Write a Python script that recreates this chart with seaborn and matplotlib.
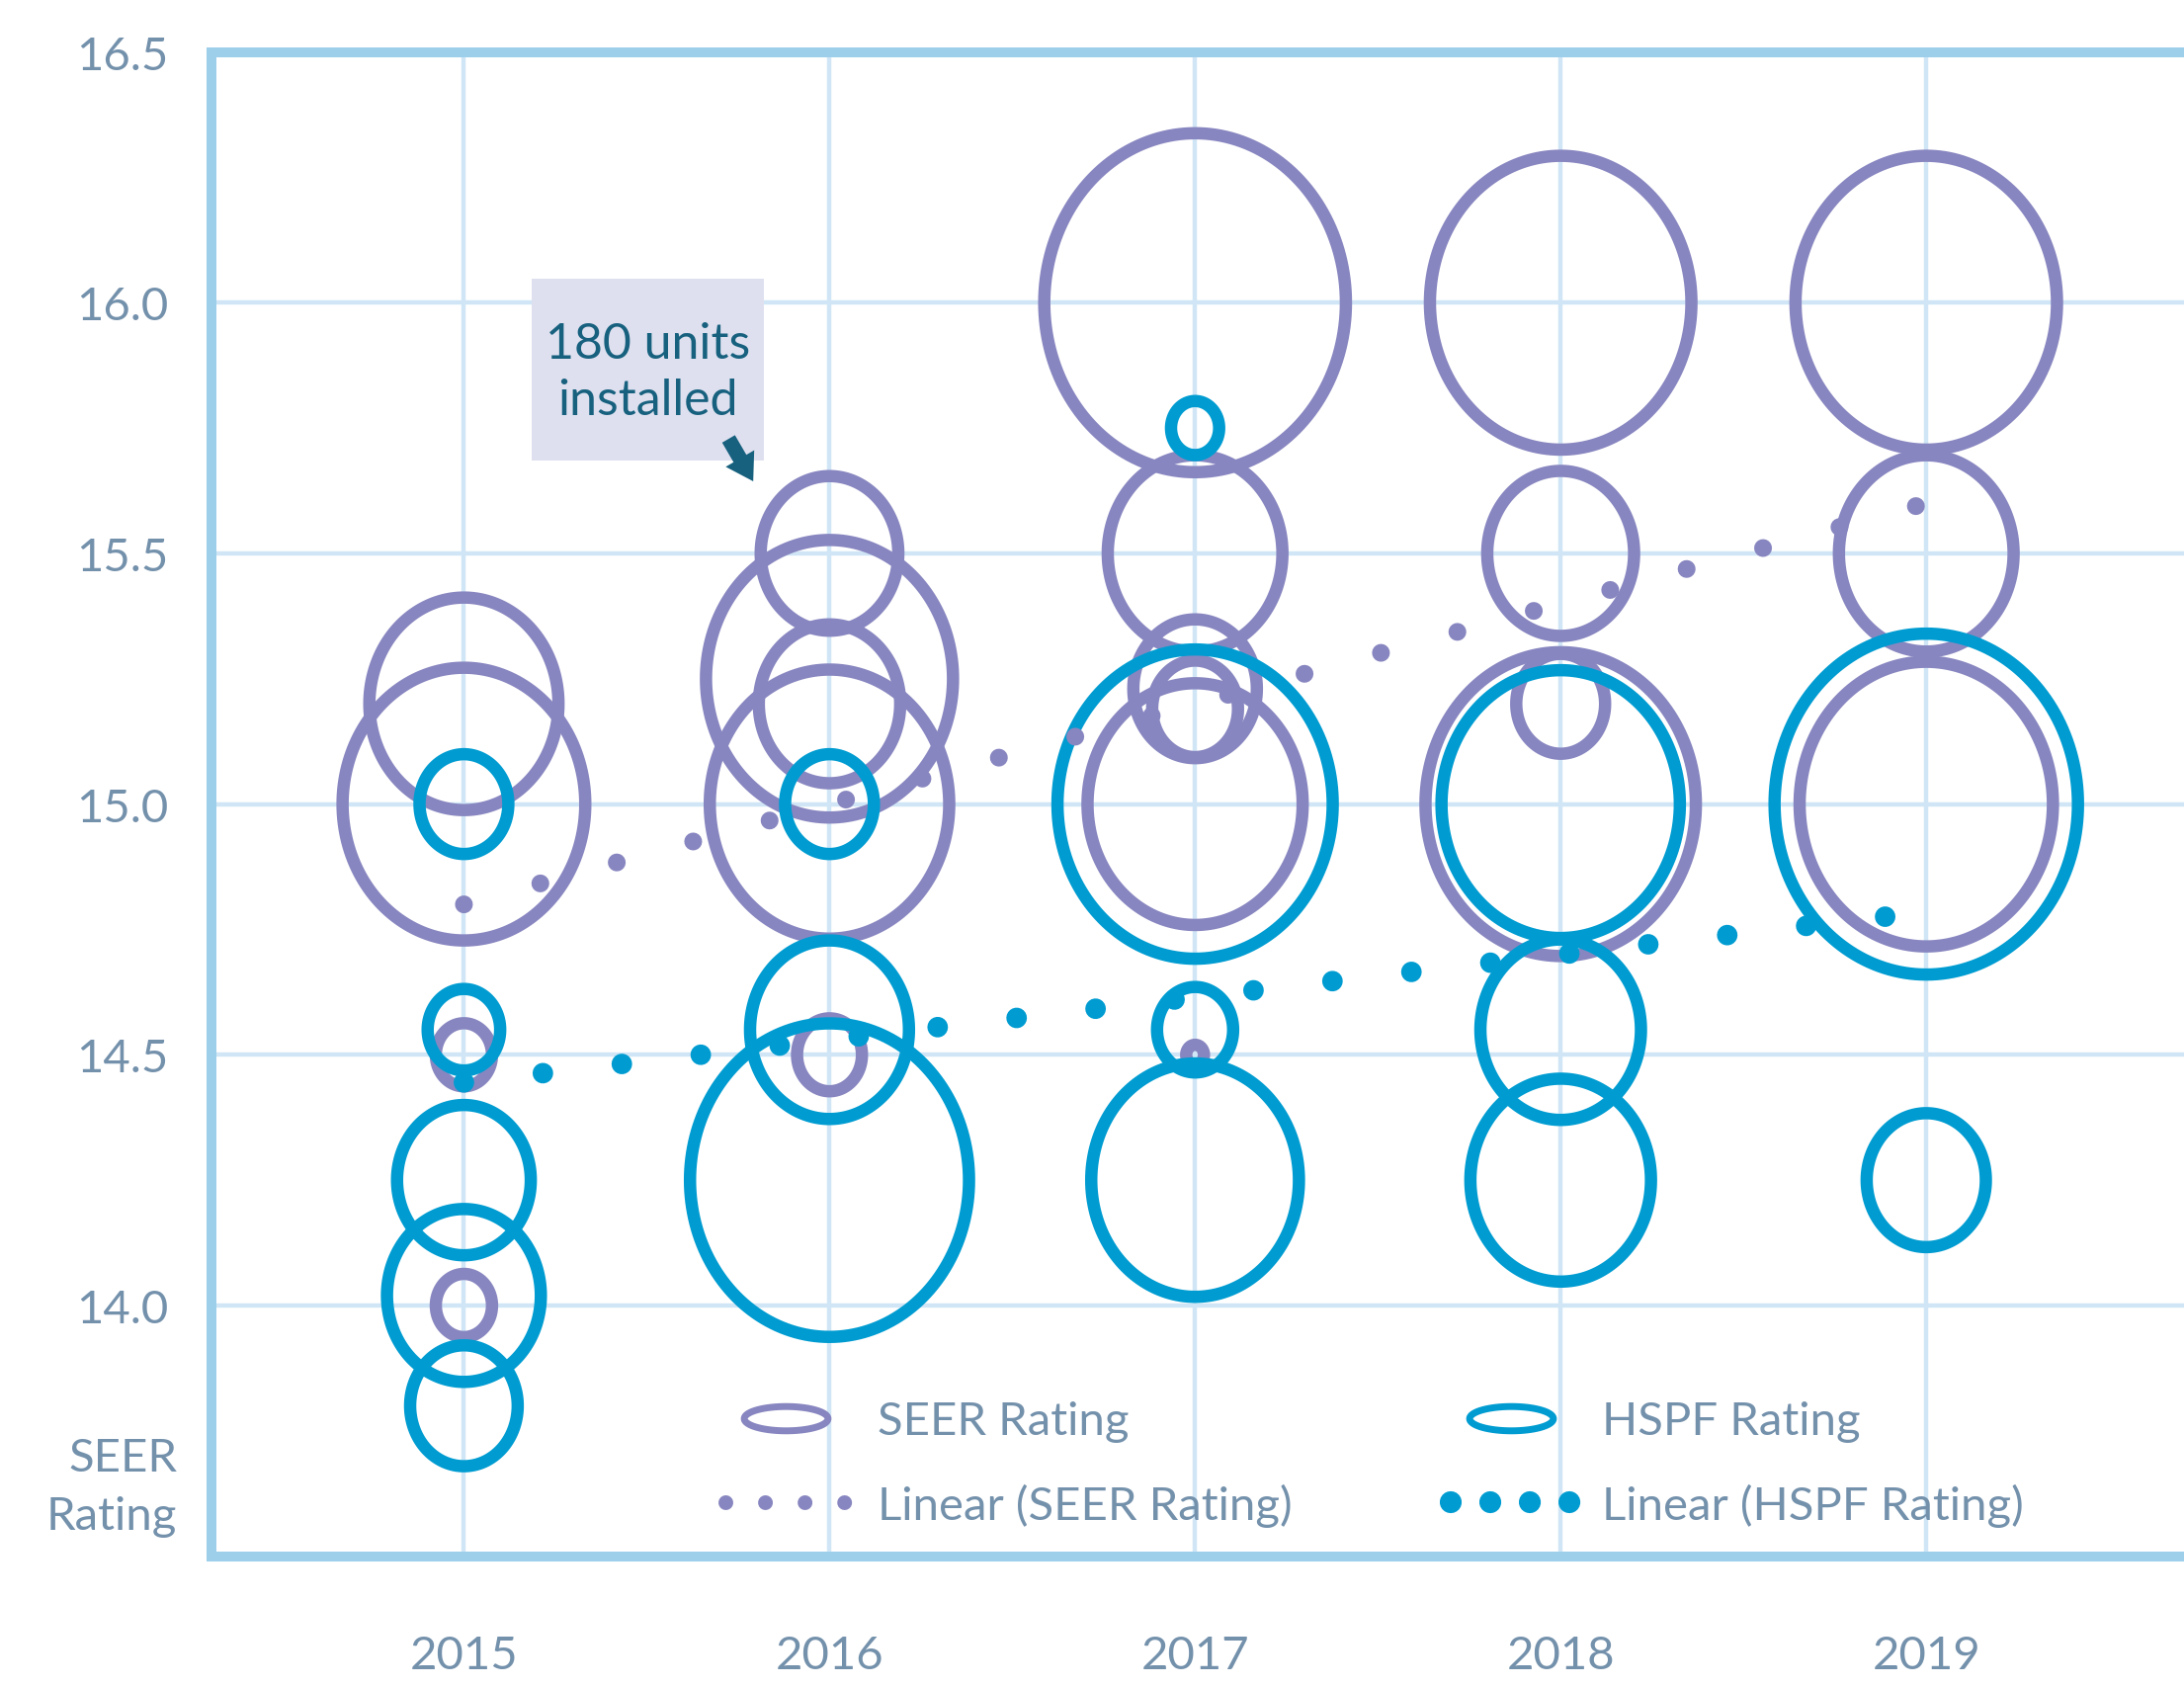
import numpy as np
import pandas as pd
import matplotlib
matplotlib.use("Agg")
import matplotlib.pyplot as plt
import seaborn as sns
from matplotlib.path import Path
from matplotlib.lines import Line2D

# ---------------- data ----------------
years = [2015, 2016, 2017, 2018, 2019]
year_labels = ["2015", "2016", "2017", "2018", "2019"]
y_ticks = [14.0, 14.5, 15.0, 15.5, 16.0, 16.5]

seer_year = [2015, 2015, 2015, 2015,
             2016, 2016, 2016, 2016, 2016,
             2017, 2017, 2017, 2017, 2017, 2017,
             2018, 2018, 2018, 2018,
             2019, 2019, 2019]
seer_rating = [15.2, 15.0, 14.5, 14.0,
               15.5, 15.25, 15.2, 15.0, 14.5,
               16.0, 15.5, 15.23, 15.19, 15.0, 14.5,
               16.0, 15.5, 15.2, 15.0,
               16.0, 15.5, 15.0]
seer_units = [340, 560, 30, 30,
              180, 580, 190, 545, 40,
              865, 290, 145, 70, 440, 3,
              650, 205, 75, 695,
              650, 290, 610]

hspf_year = [2015, 2015, 2015, 2015, 2015,
             2016, 2016, 2016,
             2017, 2017, 2017, 2017,
             2018, 2018, 2018,
             2019, 2019]
hspf_rating = [15.0, 14.55, 14.25, 14.02, 13.8,
               15.0, 14.55, 14.25,
               15.75, 15.0, 14.55, 14.25,
               15.0, 14.55, 14.25,
               15.0, 14.25]
hspf_units = [75, 50, 170, 225, 110,
              75, 240, 740,
              22, 720, 55, 410,
              540, 245, 310,
              875, 135]

seer_trend = [14.80, 15.00, 15.20, 15.40, 15.60]
hspf_trend = [14.445, 14.53, 14.615, 14.70, 14.785]

seer_df = pd.DataFrame({"year": seer_year, "rating": seer_rating, "units": seer_units})
hspf_df = pd.DataFrame({"year": hspf_year, "rating": hspf_rating, "units": hspf_units})

# ---------------- style ----------------
PURPLE = "#8886C0"
BLUE = "#009CD1"
TXT = "#7491AC"
SPINE = "#9DCFEB"
GRID = "#D0E6F6"
NOTE = "#17617F"
FS = 34

sns.set_style("white")
plt.rcParams["font.family"] = ["Lato", "DejaVu Sans"]

fig = plt.figure(figsize=(22.1, 17.08), dpi=100)
ax = fig.add_axes([0.0970, 0.0775, 0.9030, 0.8911])

t = np.linspace(0, 2 * np.pi, 181)
bubble = Path(np.column_stack([0.89 * np.cos(t), np.sin(t)]), closed=True)
flat = Path(np.column_stack([np.cos(t), 0.29 * np.sin(t)]), closed=True)

K = 70.5  # points^2 per unit installed


def bubbles(df, color):
    n0 = len(ax.collections)
    sns.scatterplot(data=df, x="year", y="rating", size="units",
                    sizes=(0, K * 1000), size_norm=(0, 1000),
                    marker=bubble, color=color, legend=False, ax=ax)
    coll = ax.collections[n0]
    coll.set_facecolor("none")
    coll.set_edgecolor(color)
    coll.set_linewidth(9)


bubbles(seer_df, PURPLE)
bubbles(hspf_df, BLUE)

sns.lineplot(x=years, y=seer_trend, ax=ax, color=PURPLE, lw=13,
             linestyle=(0, (0.001, 4.44)), dash_capstyle="round",
             errorbar=None, legend=False)
sns.lineplot(x=years, y=hspf_trend, ax=ax, color=BLUE, lw=15,
             linestyle=(0, (0.001, 3.86)), dash_capstyle="round",
             errorbar=None, legend=False)

# ---------------- axes ----------------
ax.set_xlim(2014.3105, 2019.705)
ax.set_ylim(13.5, 16.5)
ax.set_xticks(years)
ax.set_xticklabels(year_labels)
ax.set_yticks(y_ticks)
ax.set_yticklabels([f"{v:.1f}" for v in y_ticks])
ax.set_xlabel("")
ax.set_ylabel("")
ax.grid(True, color=GRID, lw=3.2)
ax.set_axisbelow(True)
for s in ["top", "left", "bottom"]:
    ax.spines[s].set_color(SPINE)
    ax.spines[s].set_linewidth(7.2)
    ax.spines[s].set_visible(True)
ax.spines["right"].set_visible(False)
ax.tick_params(length=0, labelsize=FS, labelcolor=TXT)
ax.tick_params(axis="y", pad=32)
ax.tick_params(axis="x", pad=57)

ax.text(-0.0175, 0.0464, "SEER\nRating", transform=ax.transAxes,
        ha="right", va="center", fontsize=FS, color=TXT,
        linespacing=1.5, multialignment="right")

# annotation box
ax.add_patch(plt.Rectangle((0.1623, 0.7284), 0.1178, 0.1209,
                           transform=ax.transAxes, fc="#DFE0EF", ec="none",
                           zorder=3))
ax.text(0.2212, 0.7875, "180 units\ninstalled", transform=ax.transAxes,
        ha="center", va="center", fontsize=36, color=NOTE,
        linespacing=1.3, zorder=4)
ax.annotate("", xy=(0.2745, 0.7146), xytext=(0.2620, 0.7428),
            xycoords="axes fraction", textcoords="axes fraction",
            arrowprops=dict(arrowstyle="simple,head_length=0.8,head_width=1.0,tail_width=0.45",
                            fc=NOTE, ec="none", shrinkA=0, shrinkB=0,
                            mutation_scale=24), zorder=5)

# legend
handles = [
    Line2D([], [], ls="none", marker=flat, ms=61, mfc="none", mec=PURPLE, mew=5),
    Line2D([], [], color=PURPLE, lw=10.8, ls=(0, (0.001, 2.67)), dash_capstyle="round"),
    Line2D([], [], ls="none", marker=flat, ms=61, mfc="none", mec=BLUE, mew=5),
    Line2D([], [], color=BLUE, lw=16, ls=(0, (0.001, 1.8)), dash_capstyle="round"),
]
labels = ["SEER Rating", "Linear (SEER Rating)", "HSPF Rating", "Linear (HSPF Rating)"]
ax.legend(handles, labels, ncol=2, loc="upper left", bbox_to_anchor=(0.2605, 0.1035),
          frameon=False, fontsize=FS, labelcolor=TXT, handlelength=2.57,
          handletextpad=0.68, columnspacing=3.4, labelspacing=0.88,
          borderpad=0, borderaxespad=0)

fig.savefig("out.png", dpi=100, facecolor="white")
